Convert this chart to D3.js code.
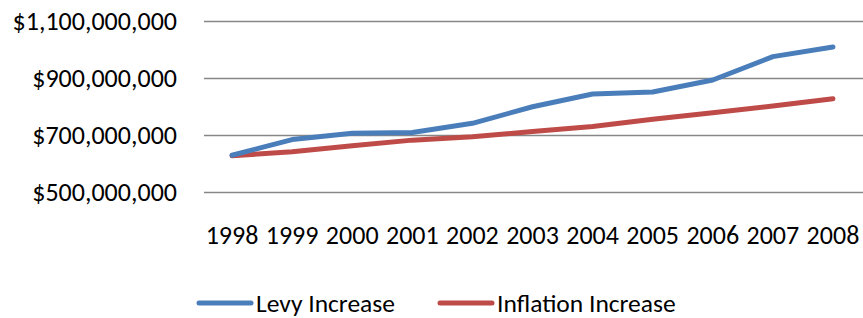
<!DOCTYPE html>
<html>
<head>
<meta charset="utf-8">
<script src="https://cdn.jsdelivr.net/npm/d3@7"></script>
<style>
  html, body { margin: 0; padding: 0; background: #fff; }
  svg { display: block; }
  text { font-family: Calibri, Carlito, Lato, sans-serif; fill: #000; }
</style>
</head>
<body>
<div id="chart"></div>
<script>
  const width = 863;
  const height = 318;

  // Data
  const years = ["1998", "1999", "2000", "2001", "2002", "2003", "2004", "2005", "2006", "2007", "2008"];
  const levy = [629, 684, 706, 709, 741, 799, 844, 851, 893, 975, 1009].map(v => v * 1e6);
  const inflation = [627, 641, 662, 682, 694, 712, 730, 755, 778, 802, 827].map(v => v * 1e6);
  const yTicks = [500e6, 700e6, 900e6, 1100e6];

  const series = [
    { name: "Levy Increase", values: levy, color: "#4a7ebb" },
    { name: "Inflation Increase", values: inflation, color: "#be4b48" }
  ];

  const x = d3.scaleBand()
    .domain(years)
    .range([202, 863]);

  const y = d3.scaleLinear()
    .domain([500e6, 1100e6])
    .range([192, 21]);

  const svg = d3.select("#chart")
    .append("svg")
    .attr("width", width)
    .attr("height", height);

  // gridlines
  svg.append("g")
    .selectAll("line")
    .data(yTicks)
    .enter()
    .append("line")
    .attr("x1", 204)
    .attr("x2", width)
    .attr("y1", d => Math.round(y(d)) + 0.5)
    .attr("y2", d => Math.round(y(d)) + 0.5)
    .attr("stroke", "#878787")
    .attr("stroke-width", 1.3);

  // y labels
  const fmt = d3.format("$,.0f");
  svg.append("g")
    .selectAll("text")
    .data(yTicks)
    .enter()
    .append("text")
    .attr("x", 177)
    .attr("y", d => y(d))
    .attr("dy", "0.36em")
    .attr("text-anchor", "end")
    .style("font-size", "26px")
    .text(d => fmt(d));

  // x labels
  svg.append("g")
    .selectAll("text")
    .data(years)
    .enter()
    .append("text")
    .attr("x", d => x(d) + x.bandwidth() / 2)
    .attr("y", 244)
    .attr("text-anchor", "middle")
    .style("font-size", "26px")
    .text(d => d);

  // lines
  const line = d3.line()
    .x((d, i) => x(years[i]) + x.bandwidth() / 2)
    .y(d => y(d));

  svg.append("g")
    .selectAll("path")
    .data(series.slice().reverse())
    .enter()
    .append("path")
    .attr("d", d => line(d.values))
    .attr("fill", "none")
    .attr("stroke", d => d.color)
    .attr("stroke-width", 5)
    .attr("stroke-linejoin", "round")
    .attr("stroke-linecap", "round");

  // legend
  const legendX = [197, 438];
  const legend = svg.append("g")
    .selectAll("g")
    .data(series)
    .enter()
    .append("g")
    .attr("transform", (d, i) => `translate(${legendX[i]}, 303)`);

  legend.append("line")
    .attr("x1", 2)
    .attr("x2", 54)
    .attr("stroke", d => d.color)
    .attr("stroke-width", 5)
    .attr("stroke-linecap", "round");

  legend.append("text")
    .attr("x", 59)
    .attr("dy", "0.36em")
    .style("font-size", "25.5px")
    .text(d => d.name);
</script>
</body>
</html>
